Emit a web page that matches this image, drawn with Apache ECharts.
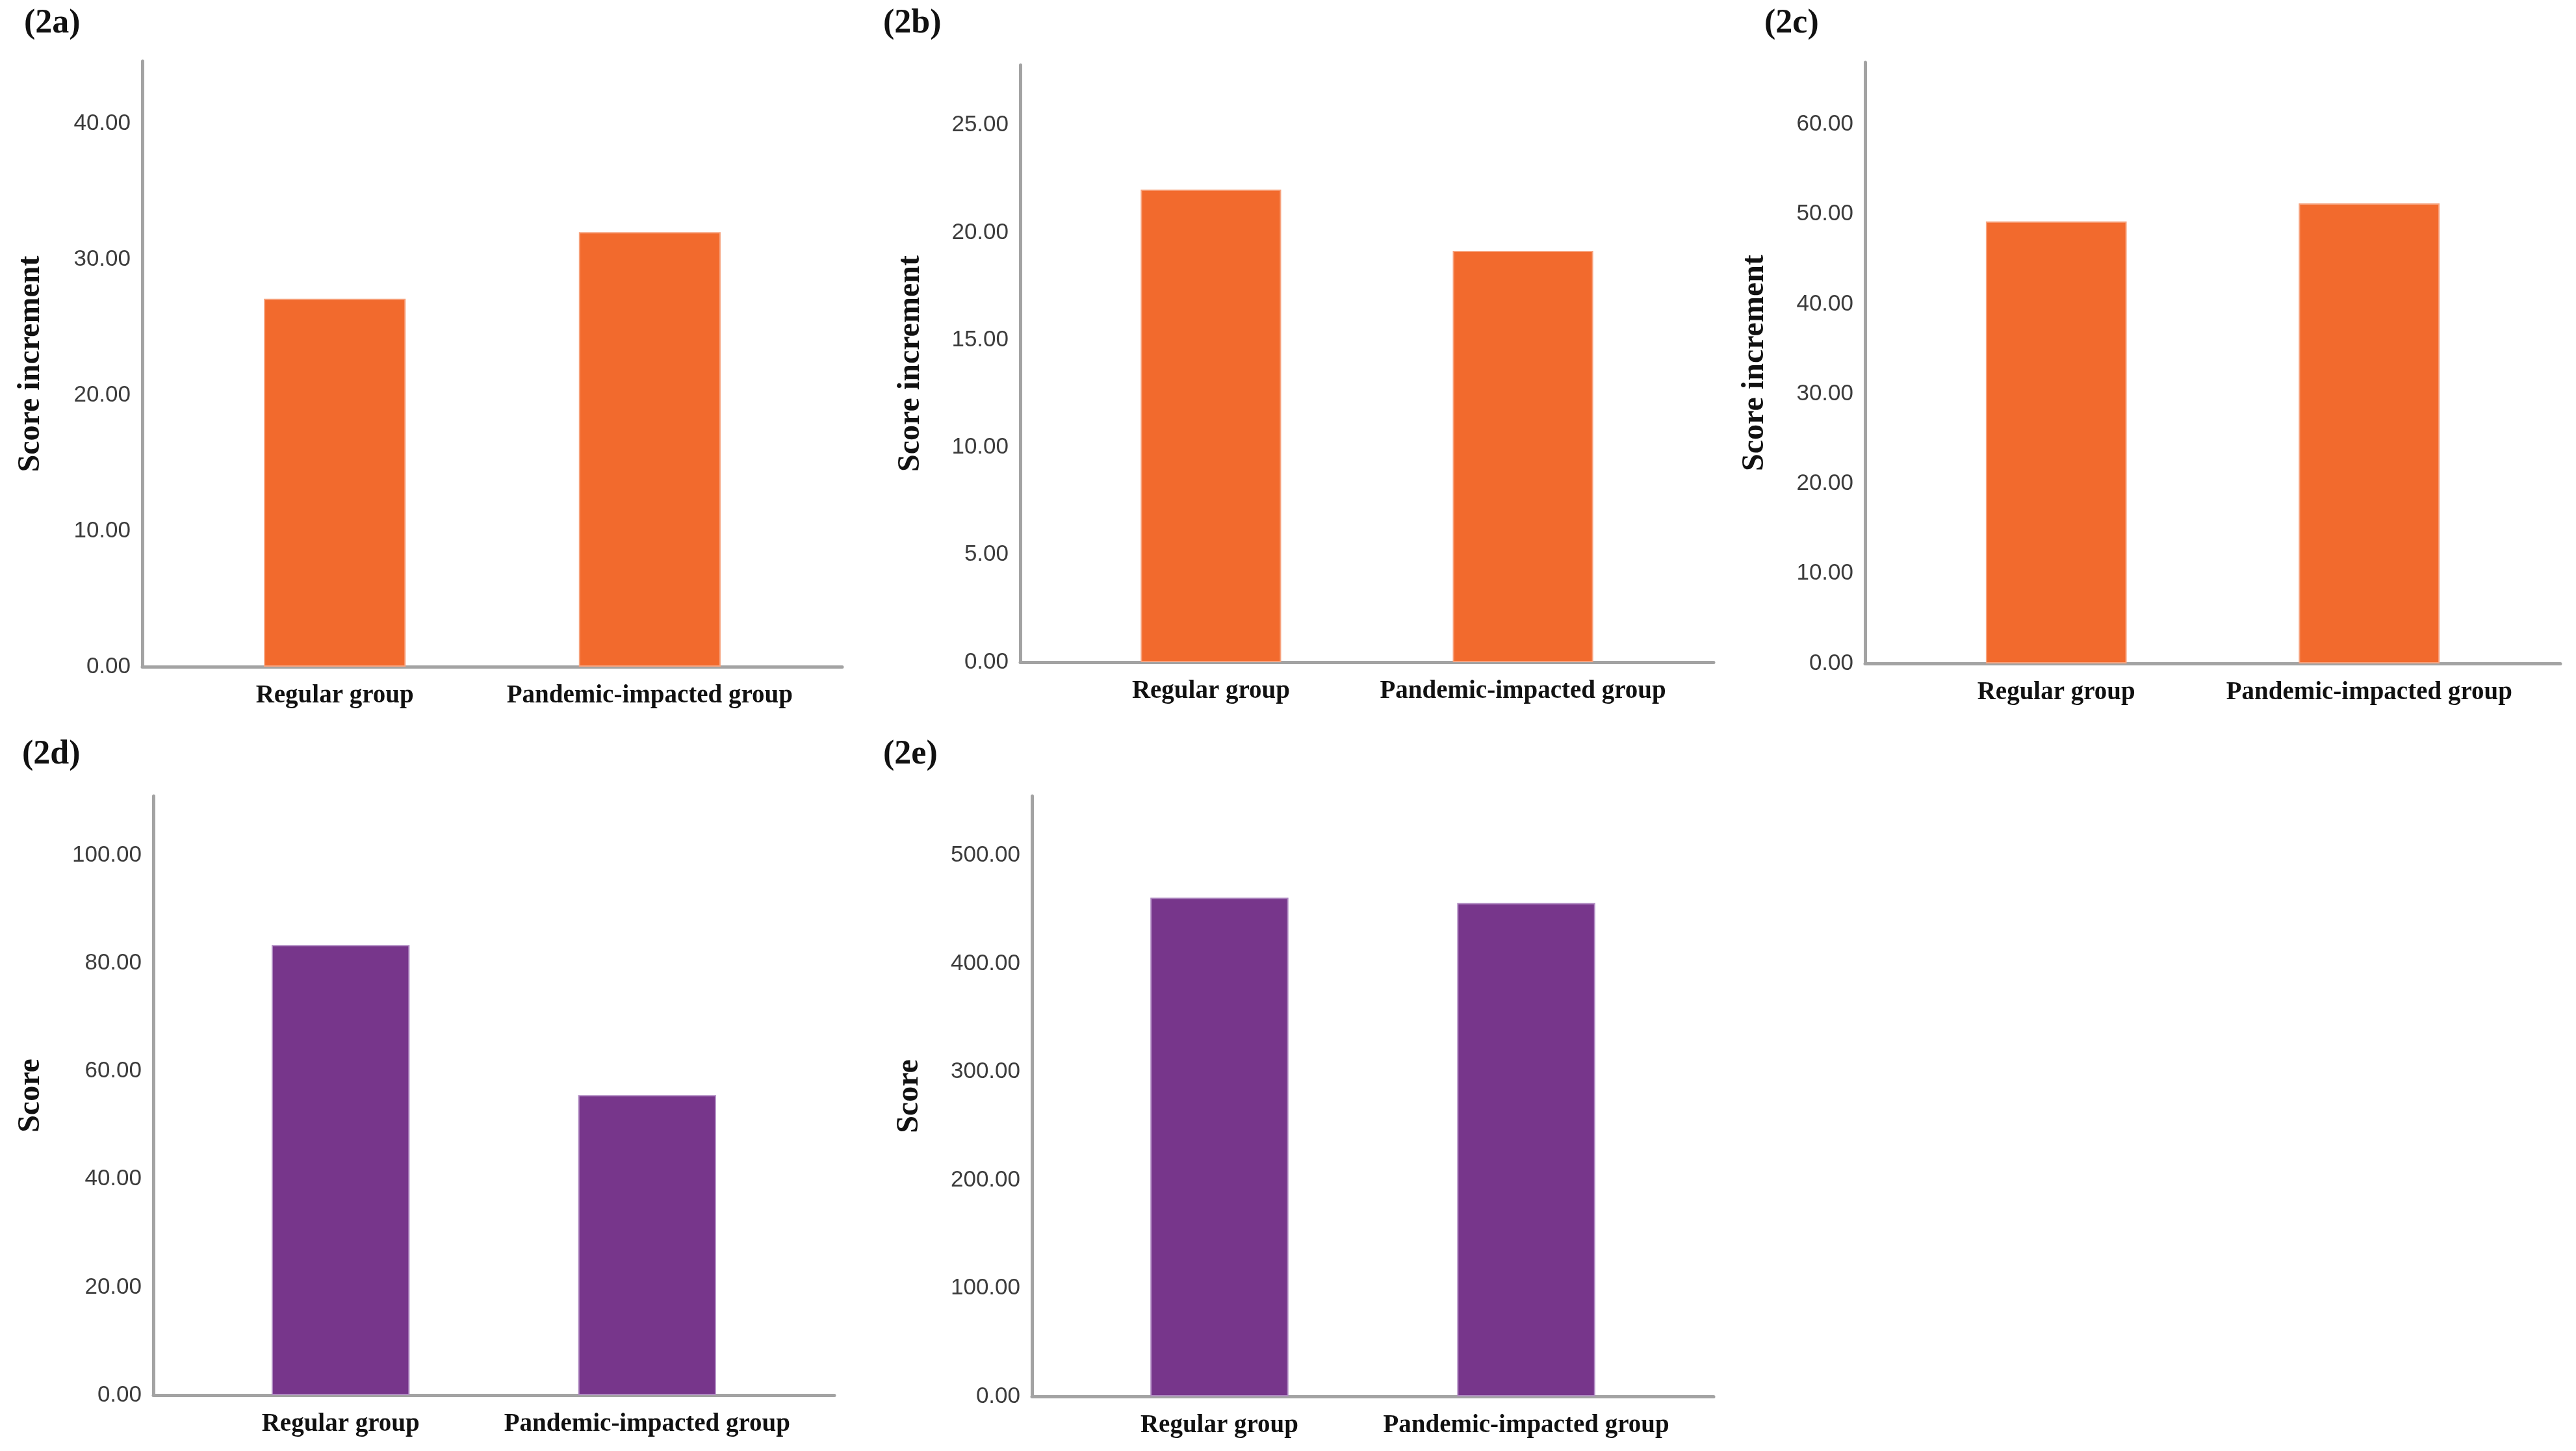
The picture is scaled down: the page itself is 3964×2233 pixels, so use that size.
<!DOCTYPE html>
<html>
<head>
<meta charset="utf-8">
<script src="https://cdn.jsdelivr.net/npm/echarts@6/dist/echarts.min.js"></script>
<style>
html,body{margin:0;padding:0;background:#fff;}
#chart{width:3964px;height:2233px;}
</style>
</head>
<body>
<div id="chart"></div>
<script>
// ---- data ----
const categories = ['Regular group', 'Pandemic-impacted group'];
const panelLabels = ['(2a)', '(2b)', '(2c)', '(2d)', '(2e)'];
const axisNames = ['Score increment', 'Score increment', 'Score increment', 'Score', 'Score'];
const valuesA = [27.1, 32.0];
const valuesB = [22.0, 19.15];
const valuesC = [49.2, 51.2];
const valuesD = [83.4, 55.6];
const valuesE = [461, 456];
const yMax = [44.6, 27.8, 66.9, 111, 555];
const yInterval = [10, 5, 10, 20, 100];

const allValues = [valuesA, valuesB, valuesC, valuesD, valuesE];
const ORANGE = '#F26A2D';
const PURPLE = '#77368B';
const colors = [ORANGE, ORANGE, ORANGE, PURPLE, PURPLE];
const borders = ['#F7A37E', '#F7A37E', '#F7A37E', '#B08BC2', '#B08BC2'];

// layout (pixels)
const grids = [
  {left: 219, top: 94, width: 1077, height: 932},
  {left: 1570, top: 100, width: 1067, height: 919},
  {left: 2870, top: 96, width: 1070, height: 925},
  {left: 236, top: 1225, width: 1048, height: 922},
  {left: 1588, top: 1225, width: 1049, height: 924}
];
const nameGaps = [147, 144, 145, 164, 164];
const titlePos = [
  {left: 37, top: 11}, {left: 1359, top: 11}, {left: 2715, top: 11},
  {left: 34, top: 1136}, {left: 1359, top: 1136}
];

const serif = '"Liberation Serif", "Times New Roman", serif';
const sans = '"Liberation Sans", Arial, sans-serif';
const AXIS_COLOR = '#a3a3a3';

const option = {
  backgroundColor: '#ffffff',
  animation: false,
  title: panelLabels.map((t, i) => ({
    text: t, left: titlePos[i].left, top: titlePos[i].top, padding: 0,
    textStyle: {fontFamily: serif, fontWeight: 'bold', fontSize: 52, color: '#111'}
  })),
  grid: grids.map(g => Object.assign({containLabel: false}, g)),
  xAxis: grids.map((g, i) => ({
    type: 'value', gridIndex: i, min: 0.389, max: 2.611,
    axisLine: {show: true, onZero: false, lineStyle: {color: AXIS_COLOR, width: 5}},
    axisTick: {show: false},
    splitLine: {show: false},
    axisLabel: {
      customValues: [1, 2],
      formatter: v => categories[Math.round(v) - 1] || '',
      margin: 25,
      fontFamily: serif, fontWeight: 'bold', fontSize: 39, color: '#111'
    }
  })),
  yAxis: grids.map((g, i) => ({
    type: 'value', gridIndex: i, min: 0, max: yMax[i], interval: yInterval[i],
    name: axisNames[i], nameLocation: 'middle', nameGap: nameGaps[i], nameRotate: 90,
    nameTextStyle: {fontFamily: serif, fontWeight: 'bold', fontSize: 48, color: '#111'},
    axisLine: {show: true, lineStyle: {color: AXIS_COLOR, width: 5}},
    axisTick: {show: false},
    splitLine: {show: false},
    axisLabel: {
      showMaxLabel: false,
      margin: 18,
      formatter: v => v.toFixed(2),
      fontFamily: sans, fontSize: 35, color: '#3c3c3c'
    }
  })),
  series: allValues.map((vals, i) => ({
    type: 'bar', xAxisIndex: i, yAxisIndex: i,
    data: vals.map((v, k) => [k + 1, v]),
    barWidth: '45%',
    itemStyle: {color: colors[i], borderColor: borders[i], borderWidth: 2}
  }))
};

const chart = echarts.init(document.getElementById('chart'), null, {renderer: 'canvas'});
chart.setOption(option);
</script>
</body>
</html>
